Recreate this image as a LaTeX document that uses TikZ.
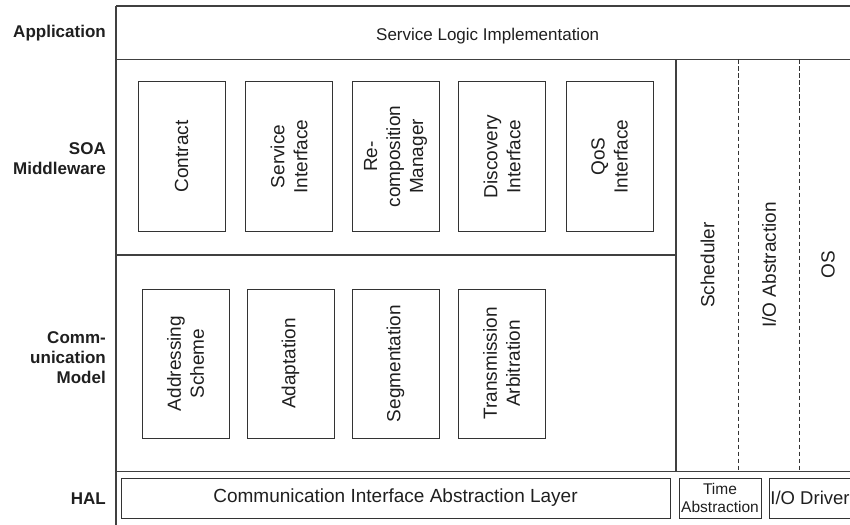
\documentclass[tikz,border=0pt]{standalone}
\usepackage{fontspec}
\setmainfont{Liberation Sans}
\begin{document}
\begin{tikzpicture}[x=1pt,y=-1pt,
  frame/.style={draw=black!75,line width=1.3pt},
  sepline/.style={draw=black!80,line width=1pt,dash pattern=on 4.5pt off 2.5pt},
  part/.style={draw=black!80,line width=1pt,inner sep=0pt,text=black!88},
  vbox/.style={part,rotate=90,minimum width=149pt,minimum height=87pt,
    align=center,font=\fontsize{19}{23}\selectfont},
  vtext/.style={rotate=90,align=center,inner sep=0pt,text=black!88,
    font=\fontsize{19}{23}\selectfont},
  halbox/.style={part,minimum height=40pt,font=\fontsize{19}{23}\selectfont},
  layer/.style={align=right,anchor=east,inner sep=0pt,text=black!88,
    font=\fontsize{17}{20}\selectfont\bfseries},
]
\useasboundingbox (0,0) rectangle (850,524);
\clip (0,0) rectangle (850,524);

% layer frame
\draw[frame] (116,6) -- (870,6);
\draw[frame] (116,6) -- (116,540);
\draw[frame] (116,59.5) -- (870,59.5);
\draw[frame] (116,255) -- (676,255);
\draw[frame] (116,471.5) -- (870,471.5);
\draw[frame] (676,59.5) -- (676,471.5);
\draw[sepline] (738,59.5) -- (738,471.5);
\draw[sepline] (799,59.5) -- (799,471.5);

% layer names
\node[layer] (lapp) at (106,33) {Application};
\node[layer] (lsoa) at (106,158.5) {SOA\\Middleware};
\node[layer] (lcom) at (106,357.5) {Comm-\\unication\\Model};
\node[layer] (lhal) at (106,499) {HAL};

% application
\node[anchor=base,inner sep=0pt,text=black!88,font=\fontsize{17}{20}\selectfont]
  (svc) at (487.7,41) {Service Logic Implementation};

% SOA middleware
\node[vbox] (contract) at (181.5,156.5) {Contract};
\node[vbox] (sif) at (289,156.5) {Service\\Interface};
\node[vbox] (recomp) at (395.5,156.5) {Re-\\composition\\Manager};
\node[vbox] (disc) at (502,156.5) {Discovery\\Interface};
\node[vbox] (qos) at (609.5,156.5) {QoS\\Interface};

% communication model
\node[vbox] (addr) at (185.5,363.5) {Addressing\\Scheme};
\node[vbox] (adapt) at (290.5,363.5) {Adaptation};
\node[vbox] (segm) at (395.5,363.5) {Segmentation};
\node[vbox] (arb) at (501.5,363.5) {Transmission\\Arbitration};

% operating system columns
\node[vtext] (sched) at (707.5,265) {Scheduler};
\node[vtext] (ioabs) at (769,265) {I/O Abstraction};
\node[vtext] (os) at (828,265) {OS};

% hardware abstraction layer
\node[halbox,minimum width=549pt] (cial) at (395.5,498) {Communication Interface Abstraction Layer};
\node[halbox,minimum width=82pt,align=center,font=\fontsize{15.5}{18}\selectfont]
  (tabs) at (720,498) {Time\\Abstraction};
\node[halbox,minimum width=82pt,font=\fontsize{18.5}{23}\selectfont] (iodrv) at (810,498) {I/O Driver};
\end{tikzpicture}
\end{document}
